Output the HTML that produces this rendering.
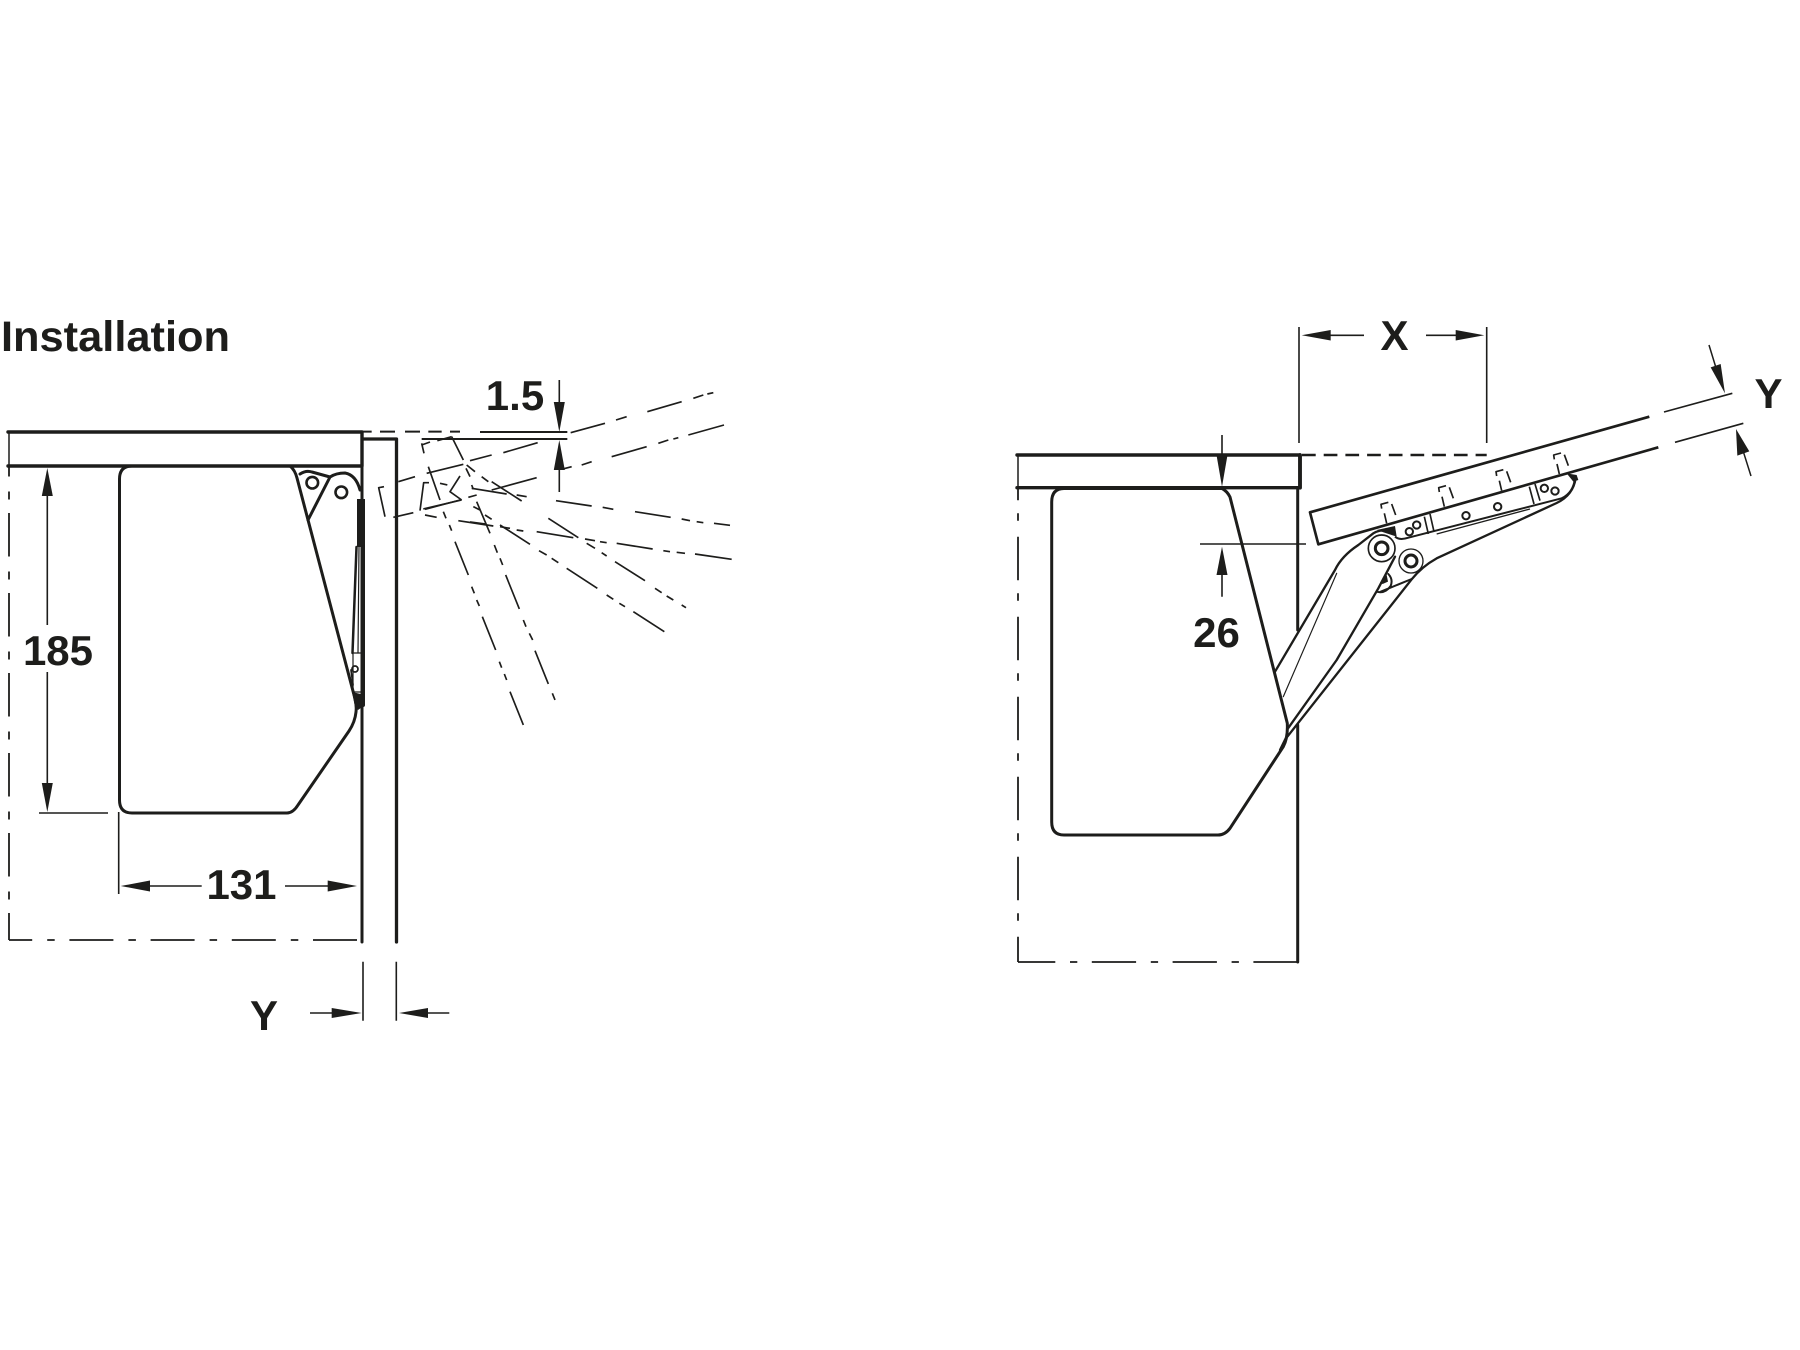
<!DOCTYPE html>
<html lang="en">
<head>
<meta charset="utf-8">
<title>Installation</title>
<style>
html,body{margin:0;padding:0;background:#fff;width:1800px;height:1350px;overflow:hidden}
svg{display:block}
text{font-family:"Liberation Sans",Arial,sans-serif;font-weight:700;fill:#1d1d1b;text-anchor:middle;font-size:42px}
.k{fill:none;stroke:#1d1d1b;stroke-linecap:round;stroke-linejoin:round}
.h{fill:#1d1d1b;stroke:none}
</style>
</head>
<body>
<svg xmlns="http://www.w3.org/2000/svg" width="1800" height="1350" viewBox="0 0 1800 1350">
<rect width="1800" height="1350" fill="#fff"/>

<text x="1" y="351" style="text-anchor:start;font-size:43px" textLength="229" lengthAdjust="spacingAndGlyphs">Installation</text>
<text x="58" y="665">185</text>
<text x="241.5" y="899">131</text>
<text x="264" y="1030">Y</text>
<text x="515" y="410">1.5</text>
<text x="1394.5" y="350">X</text>
<text x="1768.5" y="408">Y</text>
<text x="1216.5" y="647">26</text>

<!-- LEFT DIAGRAM -->
<g class="k" stroke-width="3.4">
  <path d="M8 432H362V466H8"/>
  <path d="M9 432V466" stroke-width="1.500"/>
</g>
<g class="k" stroke-width="3">
  <path d="M363 439H396.500V942" stroke-width="3.300"/>
  <path d="M362 466V942"/>
  <path d="M290 466H132Q119.500 466 119.500 479V800Q119.500 813 132 813H287Q293 813 298 805L349 731Q355 722 356 712Q357 704 353.500 693L297 478Q295 470 290 466Z"/>
  <path d="M308 520L330 477" />
  <path d="M300 474Q306 470 312 472L330 477Q336 473 345 473Q356 475 360 490"/>
  <circle cx="312.300" cy="482.700" r="5.800" stroke-width="2.600"/>
  <circle cx="341.300" cy="492.300" r="5.800" stroke-width="2.600"/>
  <polygon class="h" points="357,499 365,499 365,547 357,547"/>
  <path d="M363 547V705" stroke-width="4"/>
  <path d="M356.500 547L352.500 653" stroke-width="2.500"/>
  <path d="M359 547L358 653" stroke-width="1.200"/>
  <path d="M353 653H361M353 692H361M353 653V692" stroke-width="1.200"/>
  <circle cx="355" cy="669" r="3" stroke-width="1.700"/>
  <path d="M351 670L353 685" stroke-width="1.700"/>
  <polygon class="h" points="352,692 365,695 365,705 358,710 355,707"/>
</g>
<g class="k" stroke-width="1.800" style="stroke-linecap:butt">
  <path d="M9 466V940" stroke-dasharray="43.500 15 8 13.500" stroke-dashoffset="33"/>
  <path d="M357 940H9" stroke-dasharray="44 14.700 7.500 15"/>
  <path stroke-width="1.600" d="M47.300 490V625M47.300 672V790M39 813H108M118.700 812V894M150 886H201.700M285 886H328M363 961.700V1020.700M396.300 961.700V1020.700M310 1013H335M425 1013H449.300M559.300 380V405M559.300 465V492"/>
</g>
<polygon class="h" points="47.300,468 41.800,496 52.800,496"/>
<polygon class="h" points="47.300,812 41.800,783 52.800,783"/>
<polygon class="h" points="120.700,886 150,880.500 150,891.500"/>
<polygon class="h" points="357,886 327.700,880.500 327.700,891.500"/>
<polygon class="h" points="361.700,1013 331.700,1008 331.700,1018"/>
<polygon class="h" points="399,1013 428,1008 428,1018"/>
<polygon class="h" points="559.300,432 553.800,402 564.800,402"/>
<polygon class="h" points="559.300,440 553.800,470 564.800,470"/>

<!-- rays, traced in zoom coordinates -->
<g class="k" stroke-width="5" style="stroke-linecap:butt" transform="translate(360 370) scale(.33333)">
  <path d="M0 185H35M60 185H105M135 185H180M205 185H245M270 185H300" stroke-width="6"/>
  <path d="M360 186H622M185 207H622" stroke-width="6"/>
  <path d="M115 335L165 320M200 310L310 283M330 272L395 255M430 248L533 218M632 188L735 160M768 150L800 140M862 125L965 95M1000 85L1030 75M1042 72L1060 68"/>
  <path d="M100 442L160 428M195 418L300 390M325 382L350 375M395 360L530 323M612 296L635 290M665 285L695 275M755 260L860 230M895 220L925 210M940 207L955 203M985 195L1092 165"/>
  <path d="M195 435L230 442M295 452L400 468M420 470L450 475M470 480L490 483M530 485L640 503M675 507L705 512M720 515L740 518M770 520L878 537M910 542L930 545M950 547L975 550M1005 552L1115 568"/>
  <path d="M240 340L262 345M335 355L440 372M470 375L500 380M588 392L695 408M728 412L760 418M825 425L932 442M965 447L990 452M1010 455L1030 458"/>
  <path d="M1062 460L1110 466"/>
  <path d="M320 285L345 305M365 320L385 335M395 335L485 393M565 445L655 503M680 520L705 535M725 548L740 558M765 575L855 632M885 655L905 668M920 678L940 690M965 705L978 713"/>
  <path d="M340 410L360 420M375 435L395 448M420 465L510 523M537 542L560 555M575 565L595 578M620 595L712 655M740 675L760 688M778 700L795 710M820 725L913 785"/>
  <path d="M275 200L310 270M318 295L330 320M350 395L390 490M403 525L412 548M420 565L428 585M437 615L478 717M490 750L498 770M508 790L518 810M525 842L565 942M577 970L585 990"/>
  <path d="M185 220L192 250M205 290L240 390M250 425L258 445M268 465L275 482M285 515L325 615M335 650L343 670M350 690L358 708M367 740L407 840M418 875L425 893M433 912L440 930M450 965L490 1065"/>
  <path d="M72 350L56 353L75 440M207 338L191 338L180 422M300 318L270 365L305 390M190 417L305 390M335 345L340 358M185 225L210 216M232 212L275 200M330 456L375 462"/>
</g>

<!-- RIGHT DIAGRAM -->
<g class="k" stroke-width="3.400">
  <path d="M1017 455H1300V487.700H1017"/>
  <path d="M1300 455V487.700" stroke-width="3.800"/>
  <path d="M1018 455V487.700" stroke-width="1.500"/>
</g>
<g class="k" stroke-width="3">
  <path d="M1297.700 487.700V630M1297.700 725V962"/>
  <path d="M1222 488.500H1064Q1051.700 488.500 1051.700 502V822Q1051.700 835 1064 835H1218Q1225 835 1230 828.300L1283.300 746.700Q1288 738 1287.300 723.300L1230 497Q1227 491 1222 488.500Z"/>
</g>
<g class="k" stroke-width="1.800" style="stroke-linecap:butt">
  <path d="M1018 487.700V962" stroke-dasharray="43.500 13 7.500 16" stroke-dashoffset="31"/>
  <path d="M1297.700 962H1018" stroke-dasharray="44.300 14.500 7.300 14.700"/>
  <path stroke-width="1.600" d="M1222 435V458M1200 544H1306M1222 572V596.700"/>
  <path stroke-width="1.600" d="M1299 327V443M1486.700 327V443M1325 335.300H1364M1426 335.300H1460"/>
  <path d="M1302 455H1486.700" stroke-width="2.400" stroke-dasharray="13.700 8"/>
</g>
<polygon class="h" points="1222,486.700 1216.500,455 1227.500,455"/>
<polygon class="h" points="1222,546.700 1216.500,575 1227.500,575"/>
<polygon class="h" points="1301.700,335.300 1330.700,330 1330.700,340.500"/>
<polygon class="h" points="1484.300,335.300 1455.700,330 1455.700,340.500"/>

<!-- door, traced in zoom 4 coordinates -->
<g class="k" stroke-width="5" transform="translate(1280 310) scale(.33333)" style="stroke-linecap:butt">
  <path d="M1108 320L90 607L115 703L1135 412" stroke-width="8"/>
  <path d="M1152 306L1357 250M1185 397L1390 340" stroke-width="5"/>
  <path d="M1287 105L1310 180M1413 498L1390 425" stroke-width="4.500"/>
  <polygon class="h" points="1335,250 1292,172 1322,162"/>
  <polygon class="h" points="1368,357 1372,437 1408,424"/>
  <path d="M305 596L303 583L325 577M335 582L347 615M313 610L320 640"/>
  <path d="M478 546L476 533L498 527M508 532L520 565M486 560L493 590"/>
  <path d="M650 498L648 485L670 479M680 484L692 517M658 512L665 542"/>
  <path d="M823 448L821 435L843 429M853 434L865 467M831 462L838 492"/>
  <path d="M345 680Q358 692 385 683L845 565Q880 548 885 505" stroke-width="6"/>
  <path d="M470 672L750 597" stroke-width="4"/>
  <path d="M433 620L445 672M450 612L462 665M748 530L762 582M765 522L780 572" stroke-width="5"/>
  <circle cx="388" cy="665" r="11" stroke-width="6"/>
  <circle cx="410" cy="645" r="11" stroke-width="6"/>
  <circle cx="558" cy="617" r="11" stroke-width="6"/>
  <circle cx="653" cy="590" r="11" stroke-width="6"/>
  <circle cx="793" cy="535" r="11" stroke-width="6"/>
  <circle cx="825" cy="543" r="11" stroke-width="6"/>
  <path d="M860 490L890 495L895 510L880 515Z" class="h"/>
</g>

<!-- arm, traced in zoom 5 coordinates -->
<g class="k" stroke-width="7" transform="translate(1230 480) scale(.33333)">
  <path d="M135 575L315 270Q335 228 385 195L430 160Q445 150 475 150"/>
  <path d="M160 650L320 280" stroke-width="3.500"/>
  <path d="M172 748L320 540L445 325L495 230"/>
  <path d="M172 770L545 298Q575 260 620 235L980 69Q1030 45 1037 -6"/>
  <path d="M440 335Q465 342 482 318Q490 298 475 282M452 335L545 297" stroke-width="6"/>
  <polygon class="h" points="450,308 470,285 474,305 458,312"/>
  <polygon class="h" points="440,150 495,138 500,170 470,160"/>
  <circle cx="455" cy="205" r="40" stroke-width="5" fill="#fff"/>
  <circle cx="455" cy="205" r="19" stroke-width="9"/>
  <circle cx="543" cy="243" r="36" stroke-width="4" fill="#fff"/>
  <circle cx="543" cy="243" r="18" stroke-width="9"/>
  <path d="M172 765L150 810" stroke-width="7"/>
</g>
</svg>
</body>
</html>
